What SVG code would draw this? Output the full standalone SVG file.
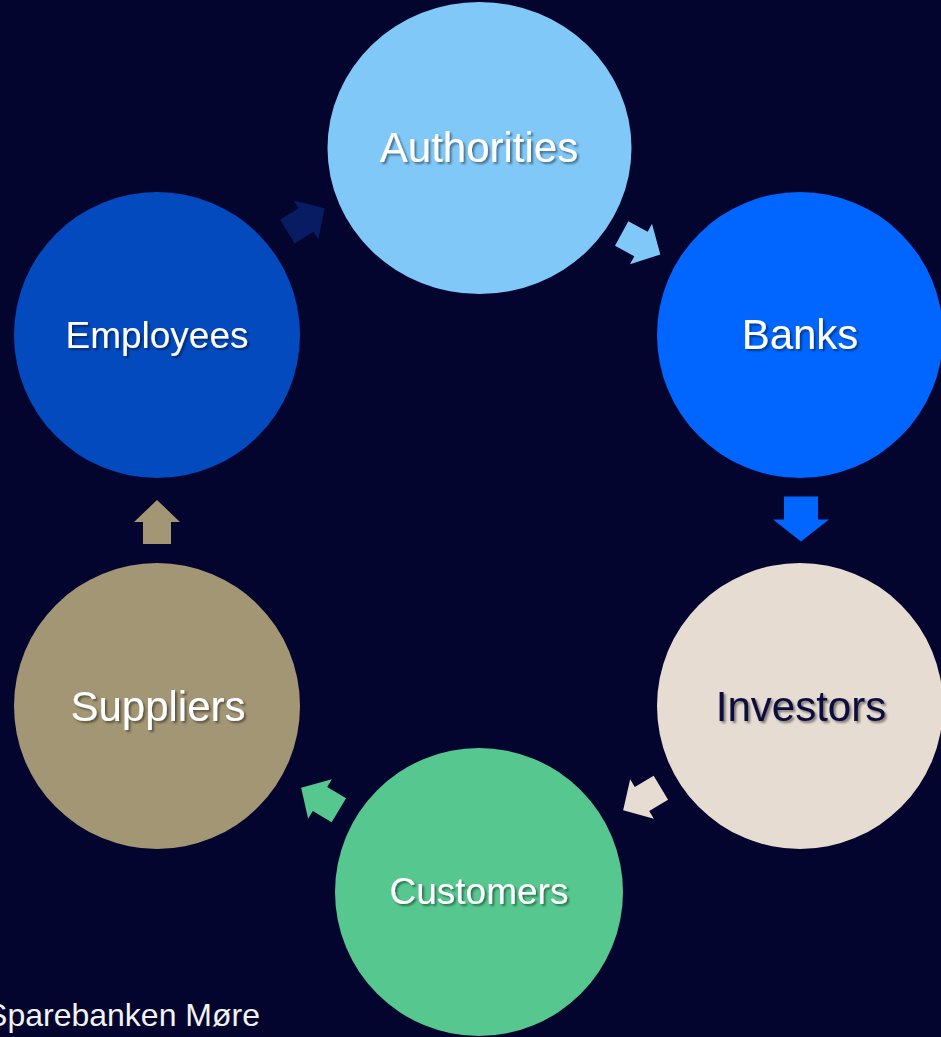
<svg xmlns="http://www.w3.org/2000/svg" width="941" height="1037" viewBox="0 0 941 1037">
<defs>
<style>
.lbl{font-family:"Liberation Sans",Arial,sans-serif;text-anchor:middle;fill:#ffffff;filter:url(#sh)}
.big{font-size:42px}
.mid{font-size:37px}
</style>
<filter id="sh" x="-10%" y="-20%" width="130%" height="150%">
<feDropShadow dx="2" dy="2" stdDeviation="1.2" flood-color="#000000" flood-opacity="0.45"/>
</filter>
<path id="arr" d="M-22,-14 L0,-14 L0,-23 L22,0 L0,23 L0,14 L-22,14 Z"/>
<path id="arrB" d="M-23,-17 L0,-17 L0,-28 L22,0 L0,28 L0,17 L-23,17 Z"/>
</defs>
<rect x="0" y="0" width="941" height="1037" fill="#03052e"/>
<g id="connectors">
<use href="#arr" fill="#081c63" transform="translate(306,220) rotate(-32)"/>
<use href="#arr" fill="#80c8f8" transform="translate(641,244) rotate(28.5)"/>
<use href="#arrB" fill="#0066ff" transform="translate(801,519.5) rotate(90)"/>
<use href="#arr" fill="#e6dcd2" transform="translate(642,799) rotate(149)"/>
<use href="#arr" fill="#56c88f" transform="translate(320,799) rotate(211)"/>
<use href="#arr" fill="#a39675" transform="translate(157,522) rotate(-90)"/>
</g>
<g id="authorities">
<ellipse cx="479.5" cy="148" rx="152" ry="146" fill="#80c8f8"/>
<text class="lbl big" x="479" y="162">Authorities</text>
</g>
<g id="banks">
<circle cx="800" cy="335" r="143" fill="#0066ff"/>
<text class="lbl big" x="800" y="349">Banks</text>
</g>
<g id="investors">
<circle cx="800" cy="706" r="143" fill="#e6dcd2"/>
<text class="lbl big" x="801" y="721" style="fill:#0b0d3d">Investors</text>
</g>
<g id="customers">
<circle cx="479" cy="892" r="144" fill="#56c88f"/>
<text class="lbl mid" x="479" y="904">Customers</text>
</g>
<g id="suppliers">
<circle cx="157" cy="706" r="143" fill="#a39675"/>
<text class="lbl big" x="158" y="721">Suppliers</text>
</g>
<g id="employees">
<circle cx="157" cy="335" r="143" fill="#034abf"/>
<text class="lbl mid" x="157" y="348">Employees</text>
</g>
<text x="260" y="1026" font-family="Liberation Sans, Arial, sans-serif" font-size="32" fill="#f2f2f2" text-anchor="end">Sparebanken Møre</text>
</svg>
